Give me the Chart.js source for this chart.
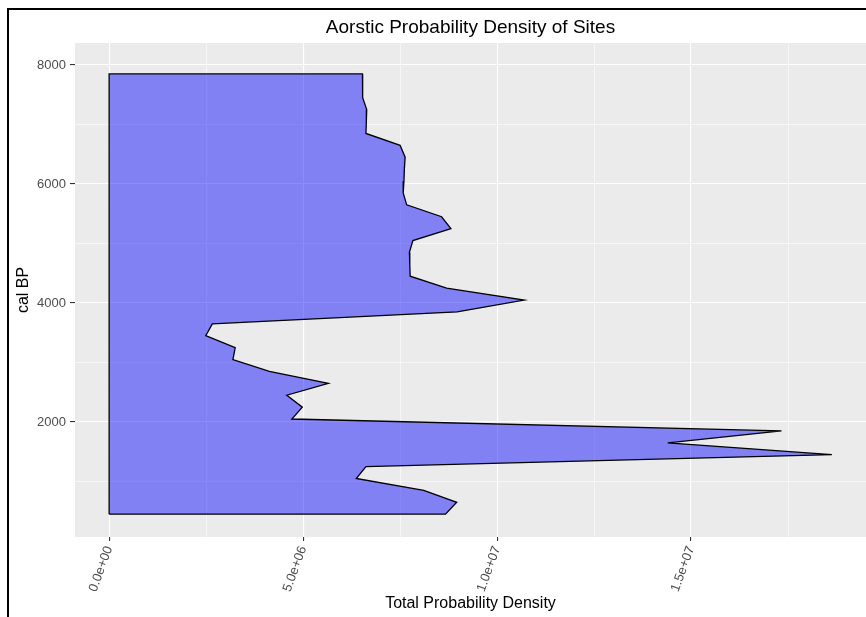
<!DOCTYPE html>
<html><head><meta charset="utf-8">
<script src="https://cdn.jsdelivr.net/npm/chart.js@4/dist/chart.umd.min.js"></script>
<style>
html,body{margin:0;padding:0;background:#fff;}
#wrap{position:relative;width:866px;height:617px;overflow:hidden;background:#fff;}
#frame{position:absolute;left:7px;top:8px;width:900px;height:700px;border-left:2px solid #000;border-top:2px solid #000;pointer-events:none;}
canvas{position:absolute;left:0;top:0;}
</style></head><body>
<div id="wrap"><canvas id="c" width="866" height="617"></canvas><div id="frame"></div></div>
<script>
// cal BP (ascending) and total probability density
const calBP = [450, 650, 850, 1050, 1250, 1450, 1650, 1850, 2050, 2250, 2450, 2650, 2850, 3050, 3250, 3450, 3650, 3850, 4050, 4250, 4450, 4650, 4850, 5050, 5250, 5450, 5650, 5850, 6050, 6250, 6450, 6650, 6850, 7050, 7250, 7450, 7650, 7850];
const density = [8.67e6, 8.96e6, 8.11e6, 6.37e6, 6.62e6, 1.863e7, 1.44e7, 1.733e7, 4.71e6, 4.98e6, 4.58e6, 5.65e6, 4.13e6, 3.19e6, 3.25e6, 2.49e6, 2.66e6, 8.97e6, 1.07e7, 8.70e6, 7.76e6, 7.75e6, 7.74e6, 7.83e6, 8.81e6, 8.57e6, 7.67e6, 7.58e6, 7.60e6, 7.61e6, 7.63e6, 7.50e6, 6.62e6, 6.63e6, 6.64e6, 6.54e6, 6.53e6, 6.53e6];

const xTickValues = [0, 5e6, 1e7, 1.5e7];
const xTickLabels = ['0.0e+00', '5.0e+06', '1.0e+07', '1.5e+07'];
const xMinorValues = [2.5e6, 7.5e6, 1.25e7, 1.75e7];
const yTickValues = [2000, 4000, 6000, 8000];
const yTickLabels = ['2000', '4000', '6000', '8000'];
const yMinorValues = [1000, 3000, 5000, 7000];

const titleText = 'Aorstic Probability Density of Sites';
const xTitle = 'Total Probability Density';
const yTitle = 'cal BP';

// closed polygon: left edge at x=0, right edge follows the density profile
const last = calBP.length - 1;
const poly = [{x: 0, y: calBP[0]}, {x: 0, y: calBP[last]}];
for (let i = last; i >= 0; i--) poly.push({x: density[i], y: calBP[i]});
poly.push({x: 0, y: calBP[0]});

const FONT = "'Liberation Sans', Arial, Helvetica, sans-serif";

const panelBg = {
  id: 'panelBg',
  beforeDraw(chart) {
    const {ctx, chartArea: a} = chart;
    ctx.save();
    ctx.fillStyle = '#ffffff';
    ctx.fillRect(0, 0, chart.width, chart.height);
    ctx.fillStyle = '#EBEBEB';
    ctx.fillRect(a.left, a.top, a.right - a.left, a.bottom - a.top);
    ctx.restore();
  }
};

function isMajor(list, v) { return list.some(t => Math.abs(t - v) < 1e-6 * Math.max(1, Math.abs(t))); }

new Chart(document.getElementById('c'), {
  type: 'scatter',
  data: {
    datasets: [{
      data: poly,
      showLine: true,
      fill: 'shape',
      backgroundColor: 'rgba(0,0,255,0.45)',
      borderColor: '#000000',
      borderWidth: 1.3,
      pointRadius: 0,
      pointHoverRadius: 0,
      tension: 0
    }]
  },
  options: {
    responsive: false,
    animation: false,
    layout: {padding: 0},
    plugins: {
      legend: {display: false},
      tooltip: {enabled: false},
      title: {
        display: true, text: titleText, fullSize: false, color: '#000',
        font: {family: FONT, size: 19, weight: 'normal'},
        padding: {top: 16.6, bottom: 3.6}
      }
    },
    scales: {
      x: {
        type: 'linear', min: -8.8e5, max: 1.951e7,
        afterBuildTicks: s => { s.ticks = xTickValues.concat(xMinorValues).sort((a,b)=>a-b).map(v => ({value: v})); },
        afterFit: s => { s.height = 80; s.paddingLeft = 0; s.paddingRight = 0; },
        border: {display: false},
        grid: {
          color: '#ffffff',
          lineWidth: c => isMajor(xTickValues, c.tick.value) ? 1.1 : 0.55,
          tickColor: c => isMajor(xTickValues, c.tick.value) ? '#333333' : 'rgba(0,0,0,0)',
          tickLength: 4, drawTicks: true
        },
        ticks: {
          autoSkip: false, minRotation: 70, maxRotation: 70, padding: 3,
          color: '#4D4D4D', font: {family: FONT, size: 13},
          callback: v => { const i = xTickValues.findIndex(t => Math.abs(t - v) < 1); return i >= 0 ? xTickLabels[i] : ''; }
        },
        title: {display: true, text: xTitle, color: '#000', font: {family: FONT, size: 16}, padding: {top: 0, bottom: 3.4}}
      },
      y: {
        type: 'linear', min: 67, max: 8370,
        afterBuildTicks: s => { s.ticks = yTickValues.concat(yMinorValues).sort((a,b)=>a-b).map(v => ({value: v})); },
        afterFit: s => { s.width = 75; s.paddingTop = 0; s.paddingBottom = 0; },
        border: {display: false},
        grid: {
          color: '#ffffff',
          lineWidth: c => isMajor(yTickValues, c.tick.value) ? 1.1 : 0.55,
          tickColor: c => isMajor(yTickValues, c.tick.value) ? '#333333' : 'rgba(0,0,0,0)',
          tickLength: 5, drawTicks: true
        },
        ticks: {
          autoSkip: false, padding: 4,
          color: '#4D4D4D', font: {family: FONT, size: 13},
          callback: v => { const i = yTickValues.indexOf(v); return i >= 0 ? yTickLabels[i] : ''; }
        },
        title: {display: true, text: yTitle, color: '#000', font: {family: FONT, size: 16}, padding: {top: 14.4, bottom: 0}}
      }
    }
  },
  plugins: [panelBg]
});
</script>
</body></html>
